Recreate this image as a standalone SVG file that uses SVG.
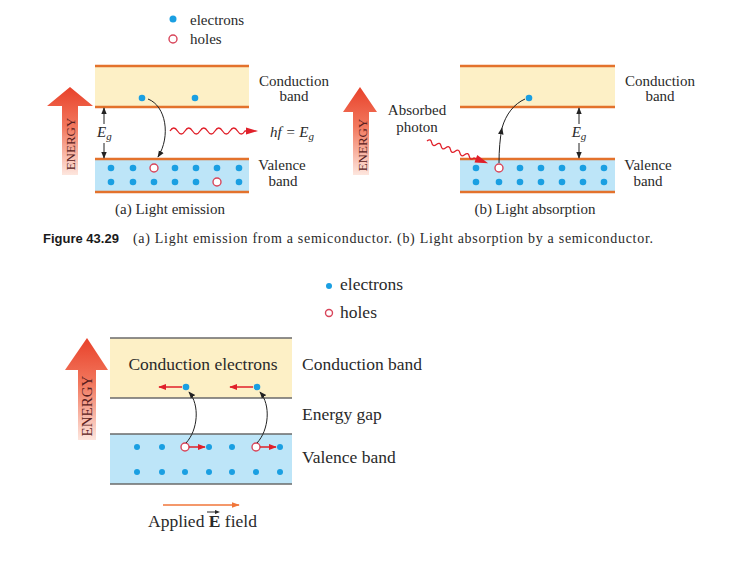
<svg xmlns="http://www.w3.org/2000/svg" width="732" height="561" viewBox="0 0 732 561">
<defs>
<linearGradient id="eg" x1="0" y1="0" x2="0" y2="1">
<stop offset="0" stop-color="#e8412a"/>
<stop offset="0.45" stop-color="#f2785e"/>
<stop offset="1" stop-color="#fde6de"/>
</linearGradient>
<marker id="ak" viewBox="0 0 10 10" refX="9" refY="5" markerWidth="7" markerHeight="7" markerUnits="userSpaceOnUse" orient="auto-start-reverse"><path d="M0,1 L10,5 L0,9 Z" fill="#222"/></marker>
<marker id="ar" viewBox="0 0 10 10" refX="9" refY="5" markerWidth="8" markerHeight="8" markerUnits="userSpaceOnUse" orient="auto"><path d="M0,1 L10,5 L0,9 Z" fill="#e0202a"/></marker>
<marker id="ao" viewBox="0 0 10 10" refX="9" refY="5" markerWidth="8" markerHeight="8" markerUnits="userSpaceOnUse" orient="auto"><path d="M0,1.5 L10,5 L0,8.5 Z" fill="#f0763a"/></marker>
</defs>
<style>
text{font-family:"Liberation Serif","Times New Roman",serif;fill:#2a2a2a}
.t15{font-size:15px}
.t17{font-size:17.5px}
.c{text-anchor:middle}
.it{font-style:italic}
.cb{fill:#fdf0c6}
.vb{fill:#bde5f8}
.ol{stroke:#e3722c;stroke-width:2.5}
.gl{stroke:#6a6a6a;stroke-width:1.5}
.e{fill:#1a9fe2}
.h{fill:#fff;stroke:#d8455a;stroke-width:1.4}
.k{fill:none;stroke:#222;stroke-width:1}
.en{fill:#5a2020;font-family:"Liberation Serif",serif}
.wv{fill:none;stroke:#e0202a;stroke-width:1.3}
.ra{stroke:#e0202a;stroke-width:1.5}
</style>

<!-- Top legend -->
<g id="legend-top">
<circle class="e" cx="173" cy="19" r="3.5"/>
<text class="t15" x="190" y="25">electrons</text>
<circle class="h" cx="173" cy="39" r="4"/>
<text class="t15" x="190" y="44">holes</text>
</g>

<!-- Panel (a) -->
<g id="energy-a">
<polygon points="70,87 93,106 78,106 78,175 62,175 62,106 47,106" fill="url(#eg)"/>
<text class="en" font-size="13" text-anchor="middle" transform="translate(74.5,144) rotate(-90)">ENERGY</text>
</g>
<g id="cond-a">
<rect class="cb" x="95" y="66" width="154" height="41"/>
<line class="ol" x1="95" y1="66" x2="249" y2="66"/>
<line class="ol" x1="95" y1="107" x2="249" y2="107"/>
<circle class="e" cx="142" cy="98" r="3.3"/>
<circle class="e" cx="195" cy="98" r="3.3"/>
<text class="t15 c" x="294" y="86">Conduction</text>
<text class="t15 c" x="294" y="101">band</text>
</g>
<g id="val-a">
<rect class="vb" x="95" y="159" width="154" height="33"/>
<line class="ol" x1="95" y1="159" x2="249" y2="159"/>
<line class="ol" x1="95" y1="192" x2="249" y2="192"/>
<g>
<circle class="e" cx="111" cy="168" r="3.3"/><circle class="e" cx="133" cy="168" r="3.3"/><circle class="h" cx="154" cy="168" r="4"/><circle class="e" cx="175" cy="168" r="3.3"/><circle class="e" cx="196" cy="168" r="3.3"/><circle class="e" cx="217" cy="168" r="3.3"/><circle class="e" cx="239" cy="168" r="3.3"/>
<circle class="e" cx="111" cy="182" r="3.3"/><circle class="e" cx="133" cy="182" r="3.3"/><circle class="e" cx="154" cy="182" r="3.3"/><circle class="e" cx="175" cy="182" r="3.3"/><circle class="e" cx="196" cy="182" r="3.3"/><circle class="h" cx="217" cy="182" r="4"/><circle class="e" cx="239" cy="182" r="3.3"/>
</g>
<text class="t15 c" x="282" y="170">Valence</text>
<text class="t15 c" x="283" y="186">band</text>
</g>
<g id="eg-a">
<line class="k" x1="104" y1="124" x2="104" y2="108" marker-end="url(#ak)"/>
<line class="k" x1="104" y1="143" x2="104" y2="158" marker-end="url(#ak)"/>
<text class="t15 it" x="97" y="137">E<tspan font-size="11" dy="3">g</tspan></text>
</g>
<g id="photon-a">
<path class="wv" d="M170,131 q3.75,-6 7.5,0 t7.5,0 t7.5,0 t7.5,0 t7.5,0 t7.5,0 t7.5,0 t7.5,0 t7.5,0 t7.5,0 l2,0"/>
<polygon points="246,127.5 258,131 246,134.5" fill="#e0202a"/>
<text class="t15 it" x="270" y="137">hf = E<tspan font-size="11" dy="3">g</tspan></text>
</g>
<text class="t15 c" x="170" y="214">(a) Light emission</text>

<!-- Panel (b) -->
<g id="energy-b">
<polygon points="360,87 377,112 369,112 369,175 353,175 353,112 343,112" fill="url(#eg)"/>
<text class="en" font-size="13" text-anchor="middle" transform="translate(366.5,145) rotate(-90)">ENERGY</text>
</g>
<g id="cond-b">
<rect class="cb" x="460" y="66" width="155" height="41"/>
<line class="ol" x1="460" y1="66" x2="615" y2="66"/>
<line class="ol" x1="460" y1="107" x2="615" y2="107"/>
<circle class="e" cx="529" cy="98" r="3.3"/>
<text class="t15 c" x="660" y="86">Conduction</text>
<text class="t15 c" x="660" y="101">band</text>
</g>
<g id="val-b">
<rect class="vb" x="460" y="159" width="155" height="33"/>
<line class="ol" x1="460" y1="159" x2="615" y2="159"/>
<line class="ol" x1="460" y1="192" x2="615" y2="192"/>
<g>
<circle class="e" cx="476" cy="168" r="3.3"/><circle class="h" cx="499" cy="168" r="4"/><circle class="e" cx="520" cy="168" r="3.3"/><circle class="e" cx="541" cy="168" r="3.3"/><circle class="e" cx="562" cy="168" r="3.3"/><circle class="e" cx="583" cy="168" r="3.3"/><circle class="e" cx="604" cy="168" r="3.3"/>
<circle class="e" cx="476" cy="182" r="3.3"/><circle class="e" cx="499" cy="182" r="3.3"/><circle class="e" cx="520" cy="182" r="3.3"/><circle class="e" cx="541" cy="182" r="3.3"/><circle class="e" cx="562" cy="182" r="3.3"/><circle class="e" cx="583" cy="182" r="3.3"/><circle class="e" cx="604" cy="182" r="3.3"/>
</g>
<text class="t15 c" x="648" y="170">Valence</text>
<text class="t15 c" x="648" y="186">band</text>
</g>
<g id="eg-b">
<line class="k" x1="579" y1="124" x2="579" y2="108" marker-end="url(#ak)"/>
<line class="k" x1="579" y1="143" x2="579" y2="158" marker-end="url(#ak)"/>
<text class="t15 it c" x="579" y="137">E<tspan font-size="11" dy="3">g</tspan></text>
</g>
<g id="photon-b">
<text class="t15 c" x="417" y="115">Absorbed</text>
<text class="t15 c" x="417" y="132">photon</text>
<g transform="translate(427,141) rotate(20)">
<path class="wv" d="M0,0 q2.5,-4 5,0 t5,0 t5,0 t5,0 t5,0 t5,0 t5,0 t5,0 t5,0 t5,0 l4,0"/>
<polygon points="52,-4 65,0 52,4" fill="#e0202a"/>
</g>
</g>
<text class="t15 c" x="535" y="214">(b) Light absorption</text>

<g id="connectors-top">
<path class="k" d="M148,99 C166,106 171,136 158,157" marker-end="url(#ak)"/>
<path class="k" d="M499,163 C499,150 500,138 502,128" marker-end="url(#ak)"/>
<path class="k" d="M502,128 C506,114 514,104 525,99"/>
</g>

<!-- Caption -->
<g id="caption">
<text x="43" y="243" font-weight="bold" font-size="13" style="font-family:'Liberation Sans',Arial,sans-serif;fill:#1a1a1a">Figure 43.29</text>
<text x="133" y="243" font-size="14" textLength="520" lengthAdjust="spacing">(a) Light emission from a semiconductor. (b) Light absorption by a semiconductor.</text>
</g>

<!-- Bottom legend -->
<g id="legend-bottom">
<circle class="e" cx="329" cy="286" r="3"/>
<text class="t17" x="340" y="290">electrons</text>
<circle class="h" cx="329" cy="313" r="3.5"/>
<text class="t17" x="340" y="318">holes</text>
</g>

<!-- Bottom diagram -->
<g id="energy-c">
<polygon points="87,338 108,370 96,370 96,440 78,440 78,370 65,370" fill="url(#eg)"/>
<text class="en" font-size="15" text-anchor="middle" transform="translate(92,406) rotate(-90)">ENERGY</text>
</g>
<g id="cond-c">
<rect class="cb" x="110" y="338" width="182" height="60"/>
<line class="gl" x1="110" y1="338" x2="292" y2="338"/>
<line class="gl" x1="110" y1="398" x2="292" y2="398"/>
<text class="t17 c" x="203" y="370">Conduction electrons</text>
<circle class="e" cx="186" cy="387" r="3.3"/>
<circle class="e" cx="257" cy="387" r="3.3"/>
<text class="t17" x="302" y="370">Conduction band</text>
</g>
<g id="gap-c">
<text class="t17" x="302" y="420">Energy gap</text>
</g>
<g id="val-c">
<rect class="vb" x="110" y="434" width="182" height="50"/>
<line class="gl" x1="110" y1="434" x2="292" y2="434"/>
<line class="gl" x1="110" y1="484" x2="292" y2="484"/>
<circle class="e" cx="137" cy="447" r="3"/><circle class="e" cx="162" cy="447" r="3"/><circle class="h" cx="185" cy="447" r="4"/><circle class="e" cx="209" cy="447" r="3"/><circle class="e" cx="232" cy="447" r="3"/><circle class="h" cx="256" cy="447" r="4"/><circle class="e" cx="280" cy="447" r="3"/>
<circle class="e" cx="137" cy="472" r="3"/><circle class="e" cx="162" cy="472" r="3"/><circle class="e" cx="185" cy="472" r="3"/><circle class="e" cx="209" cy="472" r="3"/><circle class="e" cx="232" cy="472" r="3"/><circle class="e" cx="256" cy="472" r="3"/><circle class="e" cx="280" cy="472" r="3"/>
<text class="t17" x="302" y="463">Valence band</text>
</g>
<g id="connectors-bottom">
<line class="ra" x1="182" y1="387" x2="159" y2="387" marker-end="url(#ar)"/>
<line class="ra" x1="253" y1="387" x2="230" y2="387" marker-end="url(#ar)"/>
<line class="ra" x1="189" y1="447" x2="205" y2="447" marker-end="url(#ar)"/>
<line class="ra" x1="260" y1="447" x2="276" y2="447" marker-end="url(#ar)"/>
<path class="k" d="M186,443 C198,430 200,405 189,392" marker-end="url(#ak)"/>
<path class="k" d="M257,443 C269,430 271,405 260,392" marker-end="url(#ak)"/>
</g>
<g id="field">
<line x1="163" y1="505" x2="239" y2="505" stroke="#f0763a" stroke-width="1.5" marker-end="url(#ao)"/>
<text class="t17" x="148" y="527">Applied <tspan font-weight="bold">E</tspan> field</text>
<line x1="207" y1="512" x2="217" y2="512" stroke="#2a2a2a" stroke-width="1"/>
<polygon points="215,510 220,512 215,514" fill="#2a2a2a"/>
</g>
</svg>
